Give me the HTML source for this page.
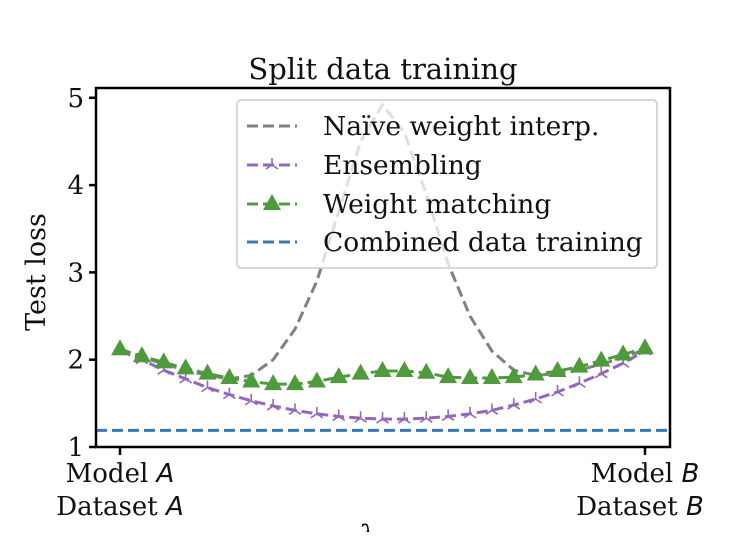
<!DOCTYPE html>
<html><head><meta charset="utf-8"><style>
body{margin:0;background:#fff}
text{font-family:"DejaVu Serif","Liberation Serif",serif;fill:#111}
</style></head><body>
<svg id="chart" width="734" height="532" xmlns="http://www.w3.org/2000/svg">
<text x="383" y="79" font-size="29" text-anchor="middle">Split data training</text>
<text transform="translate(45,272) rotate(-90)" font-size="27" text-anchor="middle">Test loss</text>
<g id="plot"></g>
<rect x="96" y="88" width="574" height="359" fill="none" stroke="#000" stroke-width="2.5"/>
<text font-size="26" text-anchor="middle"><tspan x="120" y="482">Model <tspan font-style="italic" font-family="DejaVu Sans">A</tspan></tspan><tspan x="120" y="515">Dataset <tspan font-style="italic" font-family="DejaVu Sans">A</tspan></tspan></text>
<text font-size="26" text-anchor="middle"><tspan x="645" y="482">Model <tspan font-style="italic" font-family="DejaVu Sans">B</tspan></tspan><tspan x="640" y="515">Dataset <tspan font-style="italic" font-family="DejaVu Sans">B</tspan></tspan></text>
<text x="367" y="545" font-size="28" font-style="italic" text-anchor="middle">λ</text>
<g id="legend-layer"></g>
</svg>
<script>
const lambdas = Array.from({length:25},(_,i)=>i/24);
const naive = [2.11,2.03,1.95,1.88,1.82,1.78,1.82,2.0,2.35,2.9,3.7,4.5,4.92,4.6,3.9,3.1,2.5,2.1,1.88,1.82,1.84,1.88,1.95,2.02,2.12];
const ensembling = [2.10,2.00,1.88,1.78,1.68,1.60,1.53,1.47,1.42,1.38,1.35,1.33,1.32,1.32,1.33,1.35,1.38,1.42,1.48,1.55,1.63,1.73,1.84,1.96,2.10];
const matching = [2.12,2.04,1.97,1.90,1.84,1.79,1.75,1.72,1.72,1.75,1.80,1.84,1.87,1.87,1.85,1.80,1.79,1.79,1.80,1.83,1.87,1.92,1.99,2.06,2.13];
const combined = 1.19;
const yTicks = [1,2,3,4,5];
const X = v => 120 + v*525;
const Y = v => 447 - (v-1)*87.3;
const NS="http://www.w3.org/2000/svg";
const g=document.getElementById('plot');
function mk(t,a,p){const e=document.createElementNS(NS,t);for(const k in a)e.setAttribute(k,a[k]);(p||g).appendChild(e);return e;}
yTicks.forEach(t=>{
  const l=mk('line',{x1:89,x2:96,y1:Y(t),y2:Y(t),stroke:'#000','stroke-width':2.5});
  
  
  const tx=mk('text',{x:84,y:Y(t)+9,'font-size':26,'text-anchor':'end'});tx.textContent=t;
  
  
});
[0,1].forEach(v=>{
  const l=mk('line',{x1:X(v),x2:X(v),y1:447,y2:455,stroke:'#000','stroke-width':2.5});
  
  
});
const cl=mk('line',{x1:96,x2:670,y1:Y(combined),y2:Y(combined),stroke:'#3a78b8','stroke-width':3,'stroke-dasharray':'11,5'});


function line(arr,color,name){
  const p=mk('polyline',{points:arr.map((v,i)=>X(lambdas[i])+','+Y(v)).join(' '),fill:'none',stroke:color,'stroke-width':3,'stroke-dasharray':'11,5'});
  
  
}
line(naive,'#808080','naive-interp-line');
line(ensembling,'#9467bd','ensembling-line');
ensembling.forEach((v,i)=>{
  const x=X(lambdas[i]),y=Y(v);
  const m=mk('path',{d:`M${x} ${y} L${x} ${y-7} M${x} ${y} L${x-6} ${y+4} M${x} ${y} L${x+6} ${y+4}`,stroke:'#9467bd','stroke-width':1.6});
  
  
});
line(matching,'#4f9a3c','weight-matching-line');
matching.forEach((v,i)=>{
  const x=X(lambdas[i]),y=Y(v);
  const m=mk('path',{d:`M${x} ${y-10} L${x+9} ${y+6} L${x-9} ${y+6} Z`,fill:'#4f9a3c'});
  
  
});
const L=document.getElementById('legend-layer');
L.innerHTML=`<g>
<rect x="237" y="100" width="420" height="168" rx="4" fill="#fff" fill-opacity="0.75" stroke="#ccc" stroke-width="1.5"/>
<line x1="247" y1="126" x2="297" y2="126" stroke="#808080" stroke-width="3" stroke-dasharray="11,5"/>
<text x="323" y="135" font-size="26.5">Naïve weight interp.</text>
<line x1="247" y1="165" x2="297" y2="165" stroke="#9467bd" stroke-width="3" stroke-dasharray="11,5"/>
<path d="M272 165 L272 158 M272 165 L266 169 M272 165 L278 169" stroke="#9467bd" stroke-width="1.6"/>
<text x="323" y="174" font-size="26.5">Ensembling</text>
<line x1="247" y1="204" x2="297" y2="204" stroke="#4f9a3c" stroke-width="3" stroke-dasharray="11,5"/>
<path d="M272 194 L281 210 L263 210 Z" fill="#4f9a3c"/>
<text x="323" y="213" font-size="26.5">Weight matching</text>
<line x1="247" y1="242" x2="297" y2="242" stroke="#3a78b8" stroke-width="3" stroke-dasharray="11,5"/>
<text x="323" y="251" font-size="26.5">Combined data training</text>
</g>`;
</script>
</body></html>
